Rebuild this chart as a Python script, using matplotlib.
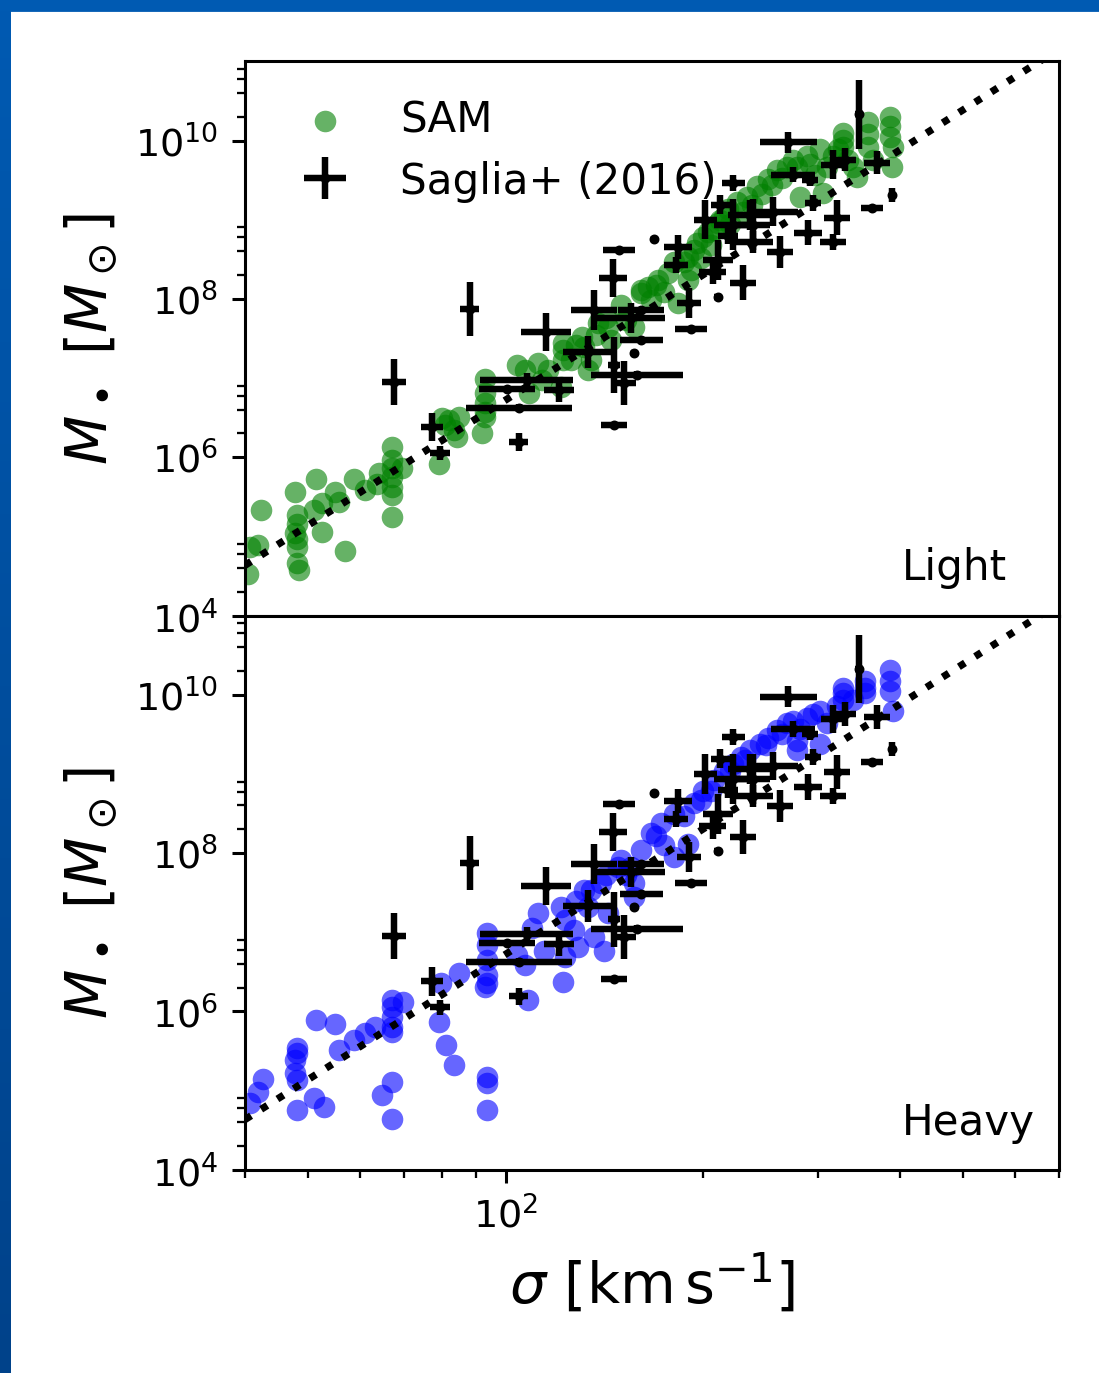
import numpy as np
import matplotlib
matplotlib.use("Agg")
import matplotlib.pyplot as plt
from matplotlib.ticker import FixedLocator, NullFormatter, LogFormatterSciNotation
from matplotlib.patches import Rectangle

# SAM black holes, light seeds (log10 sigma [km/s], log10 M_bh [Msun])
light_logsig = [1.609, 1.622, 1.626, 1.606, 1.679, 1.682, 1.682, 1.679, 1.682, 1.682, 1.682, 1.685,
                1.710, 1.708, 1.720, 1.720, 1.739, 1.746, 1.755, 1.769, 1.786, 1.807, 1.804,
                1.827, 1.827, 1.827, 1.827, 1.827, 1.827, 1.827, 1.842,
                1.898, 1.903, 1.907, 1.922, 1.929, 1.964, 1.968, 1.968, 1.968, 1.968, 1.968, 1.913, 1.926,
                2.017, 2.029, 2.050, 2.065, 2.036, 2.055, 2.085, 2.088, 2.088, 2.088,
                2.116, 2.120, 2.126, 2.131, 2.141, 2.157, 2.161, 2.196, 2.207, 2.217, 2.233, 2.248,
                2.257, 2.263, 2.278, 2.287, 2.302, 2.318, 2.328, 2.207, 2.278, 2.293, 2.309, 2.324,
                2.333, 2.339, 2.354, 2.369, 2.384, 2.400, 2.415, 2.430, 2.450, 2.439, 2.460, 2.480,
                2.485, 2.491, 2.500, 2.515, 2.515, 2.515, 2.530, 2.536, 2.553, 2.553, 2.553, 2.561,
                2.587, 2.587, 2.587, 2.590, 2.591,
                2.153, 2.176, 2.184, 2.222, 2.229, 2.242, 2.272, 2.283, 2.298, 2.313, 2.343, 2.362,
                2.377, 2.392, 2.407, 2.422, 2.445, 2.465, 2.473, 2.508, 2.523, 2.108, 2.138, 2.100]
light_logm = [4.86, 4.89, 5.33, 4.53, 5.56, 5.27, 5.16, 5.04, 4.97, 4.86, 4.66, 4.57,
              5.72, 5.33, 5.42, 5.05, 5.56, 5.43, 4.81, 5.73, 5.59, 5.80, 5.66,
              6.13, 5.96, 5.87, 5.75, 5.62, 5.52, 5.24, 5.87,
              5.92, 6.49, 6.41, 6.34, 6.51, 6.30, 6.99, 6.81, 6.68, 6.57, 6.51, 6.47, 6.25,
              7.16, 7.10, 7.19, 7.10, 6.81, 6.97, 6.89, 7.44, 7.35, 7.23,
              7.52, 7.39, 7.10, 7.23, 7.70, 7.65, 7.48, 7.65, 8.08, 8.15, 8.24, 8.33,
              8.46, 7.95, 8.24, 8.62, 8.78, 8.87, 9.00, 8.11, 8.53, 8.71, 8.84, 8.96,
              9.04, 9.13, 9.22, 9.29, 9.42, 9.51, 9.63, 9.67, 9.29, 9.76, 9.80, 9.89,
              9.34, 9.67, 9.80, 10.10, 10.01, 9.92, 9.67, 9.54, 10.23, 10.08, 9.92, 9.76,
              10.30, 10.18, 10.05, 9.67, 9.92,
              7.76, 7.92, 7.73, 7.99, 8.18, 8.09, 8.47, 8.37, 8.52, 8.68, 8.94, 9.10,
              9.19, 9.32, 9.44, 9.53, 9.66, 9.70, 9.57, 9.89, 9.76, 7.42, 7.54, 7.23]

# SAM black holes, heavy seeds
heavy_logsig = [1.609, 1.622, 1.629, 1.682, 1.682, 1.679, 1.679, 1.682, 1.682,
                1.710, 1.708, 1.723, 1.740, 1.745, 1.769, 1.786, 1.801,
                1.827, 1.827, 1.827, 1.827, 1.827, 1.843, 1.827, 1.812, 1.827,
                1.898, 1.901, 1.909, 1.921, 1.929,
                1.971, 1.971, 1.971, 1.971, 1.971, 1.968, 1.971, 1.971, 1.971,
                2.035, 2.017, 2.029, 2.088, 2.050, 2.040, 2.059, 2.085, 2.090, 2.090, 2.105, 2.111,
                2.120, 2.126, 2.150, 2.135, 2.157, 2.146, 2.172, 2.191, 2.196, 2.196, 2.207, 2.222,
                2.237, 2.257, 2.257, 2.278, 2.287, 2.302, 2.318, 2.333, 2.348, 2.359, 2.374, 2.389,
                2.400, 2.415, 2.430, 2.445, 2.439, 2.460, 2.470, 2.480, 2.491,
                2.515, 2.515, 2.515, 2.549, 2.549, 2.549, 2.587, 2.587, 2.587, 2.591, 2.480, 2.445,
                2.153, 2.176, 2.184, 2.229, 2.242, 2.272, 2.298, 2.313, 2.343, 2.366, 2.397, 2.422,
                2.450, 2.506, 2.530, 2.108, 2.131]
heavy_logm = [4.84, 4.98, 5.15, 5.54, 5.48, 5.39, 5.22, 5.13, 4.76,
              5.89, 4.91, 4.79, 5.84, 5.51, 5.64, 5.73, 5.80,
              6.14, 6.06, 5.93, 5.80, 5.74, 6.12, 5.11, 4.95, 4.64,
              5.87, 6.36, 5.58, 5.32, 6.48,
              6.99, 6.84, 6.65, 6.46, 6.36, 6.31, 5.17, 5.10, 4.76,
              6.14, 6.71, 6.59, 6.37, 7.24, 7.06, 6.77, 7.32, 7.15, 6.69, 7.03, 6.81,
              7.53, 7.32, 6.77, 6.94, 7.24, 7.62, 7.82, 7.82, 7.44, 7.62, 8.04, 8.25,
              8.38, 8.50, 7.95, 8.12, 8.63, 8.79, 8.92, 9.04, 9.13, 9.21, 9.30, 9.38,
              9.46, 9.55, 9.64, 9.30, 9.67, 9.71, 9.76, 9.80, 9.64,
              10.09, 10.02, 9.93, 10.18, 10.09, 10.02, 10.31, 10.18, 10.05, 9.80, 9.38, 9.42,
              7.72, 7.91, 7.72, 8.22, 8.10, 8.47, 8.67, 8.79, 9.04, 9.17, 9.36, 9.51,
              9.57, 9.86, 9.93, 7.40, 7.53]

# Saglia et al. (2016) compilation: log sigma, log M and their errors (dex)
saglia_logsig = [1.830, 1.945, 1.888, 1.900, 2.020, 2.062, 2.164, 2.173, 2.226, 2.263,
                 2.135, 2.166, 2.021, 2.002, 2.032, 2.081, 2.126, 2.191, 2.207, 2.201,
                 2.166, 2.181, 2.419, 2.348, 2.432, 2.500, 2.518, 2.540, 2.567, 2.590,
                 2.559, 2.506, 2.462, 2.500, 2.439, 2.409, 2.378, 2.348, 2.324, 2.324,
                 2.363, 2.280, 2.283, 2.316, 2.260, 2.374, 2.378, 2.340, 2.305, 2.465,
                 2.470, 2.196, 2.207, 2.328]
saglia_logm = [6.949, 7.873, 6.380, 6.051, 6.190, 7.582, 8.266, 8.620, 8.759, 8.658,
               7.861, 6.405, 6.620, 6.861, 6.975, 6.848, 7.329, 7.759, 7.861, 7.038,
               7.165, 6.937, 8.595, 9.468, 9.975, 9.696, 9.759, 10.329, 9.722, 9.316,
               9.152, 9.025, 8.835, 8.722, 9.570, 9.101, 8.937, 8.937, 8.494, 8.025,
               8.203, 7.949, 7.620, 8.342, 8.430, 9.063, 8.722, 8.797, 9.000, 9.506,
               9.215, 7.316, 7.481, 9.190]
saglia_dlogsig = [0.018, 0.014, 0.017, 0.015, 0.014, 0.038, 0.021, 0.024, 0.003, 0.021,
                  0.035, 0.020, 0.081, 0.043, 0.071, 0.023, 0.038, 0.052, 0.035, 0.070,
                  0.009, 0.018, 0.020, 0.018, 0.043, 0.018, 0.017, 0.006, 0.020, 0.003,
                  0.017, 0.020, 0.021, 0.020, 0.033, 0.038, 0.026, 0.030, 0.023, 0.005,
                  0.020, 0.018, 0.024, 0.020, 0.018, 0.035, 0.030, 0.015, 0.018, 0.012,
                  0.012, 0.004, 0.033, 0.015]
saglia_dlogm = [0.29, 0.34, 0.18, 0.09, 0.11, 0.24, 0.24, 0.01, 0.03, 0.15,
                0.25, 0.01, 0.05, 0.04, 0.09, 0.15, 0.20, 0.19, 0.03, 0.05,
                0.35, 0.28, 0.20, 0.10, 0.13, 0.18, 0.15, 0.43, 0.15, 0.09,
                0.01, 0.22, 0.16, 0.10, 0.10, 0.18, 0.32, 0.32, 0.25, 0.04,
                0.22, 0.19, 0.03, 0.16, 0.10, 0.19, 0.14, 0.10, 0.25, 0.08,
                0.10, 0.04, 0.04, 0.12]

# Saglia+16 M-sigma fit: log M = a log sigma + b
fit_slope = 5.246
fit_norm = -3.77

panel_names = ["Light", "Heavy"]
panel_colors = ["green", "blue"]

fig = plt.figure(figsize=(4, 5))
gs = fig.add_gridspec(2, 1, left=0.2229, right=0.9636, top=0.9548, bottom=0.1479, hspace=0)
axes = [fig.add_subplot(gs[0]), None]
axes[1] = fig.add_subplot(gs[1], sharex=axes[0])

sig_s = 10 ** np.array(saglia_logsig)
m_s = 10 ** np.array(saglia_logm)
xerr = [sig_s - 10 ** (np.array(saglia_logsig) - saglia_dlogsig),
        10 ** (np.array(saglia_logsig) + saglia_dlogsig) - sig_s]
yerr = [m_s - 10 ** (np.array(saglia_logm) - saglia_dlogm),
        10 ** (np.array(saglia_logm) + saglia_dlogm) - m_s]

sig_line = np.logspace(np.log10(40), np.log10(700), 200)
m_line = 10 ** (fit_slope * np.log10(sig_line) + fit_norm)

sam = [(light_logsig, light_logm), (heavy_logsig, heavy_logm)]

for i, ax in enumerate(axes):
    ls, lm = sam[i]
    ax.scatter(10 ** np.array(ls), 10 ** np.array(lm), s=32, color=panel_colors[i],
               alpha=0.6, linewidths=0, label="SAM", zorder=2)
    ax.errorbar(sig_s, m_s, xerr=xerr, yerr=yerr, fmt="o", color="k", ms=1.6,
                elinewidth=1.7, capsize=0, label="Saglia+ (2016)", zorder=3)
    ax.plot(sig_line, m_line, ":", color="k", lw=1.9, zorder=4)

    ax.set_xscale("log")
    ax.set_yscale("log")
    ax.set_xlim(40, 700)
    ax.set_ylim(1e4, 1e11)
    ax.yaxis.set_major_locator(FixedLocator([1e4, 1e6, 1e8, 1e10]))
    ax.yaxis.set_major_formatter(LogFormatterSciNotation())
    ax.yaxis.set_minor_locator(FixedLocator([f * 10.0 ** k for k in (4, 6, 8, 10) for f in (2, 4, 6, 8)]))
    ax.yaxis.set_minor_formatter(NullFormatter())
    ax.xaxis.set_minor_formatter(NullFormatter())
    ax.set_ylabel(r"$M_\bullet\ [M_\odot]$", fontsize=15)
    ax.text(0.807, 0.065, panel_names[i], transform=ax.transAxes, fontsize=11,
            ha="left", va="baseline")

axes[0].tick_params(axis="x", which="both", bottom=False, labelbottom=False)
axes[0].legend(loc="upper left", frameon=False, fontsize=11, labelspacing=0.45)
axes[1].set_xlabel(r"$\sigma\ [\mathrm{km\,s^{-1}}]$", fontsize=15)

# blue slide frame on the top and left edges
fig.patches.append(Rectangle((0, 1 - 11 / 1373), 1, 11 / 1373, transform=fig.transFigure,
                             color="#005AB2", zorder=10))
edge = fig.add_axes([0, 0, 11 / 1099, 1])
grad = np.linspace(0, 1, 256)[:, None]
edge.imshow(grad, aspect="auto", cmap=matplotlib.colors.LinearSegmentedColormap.from_list(
    "edge", ["#005AB2", "#00428A"]), extent=[0, 1, 0, 1], origin="upper")
edge.set_axis_off()

fig.savefig("out.png", dpi=274.75)
